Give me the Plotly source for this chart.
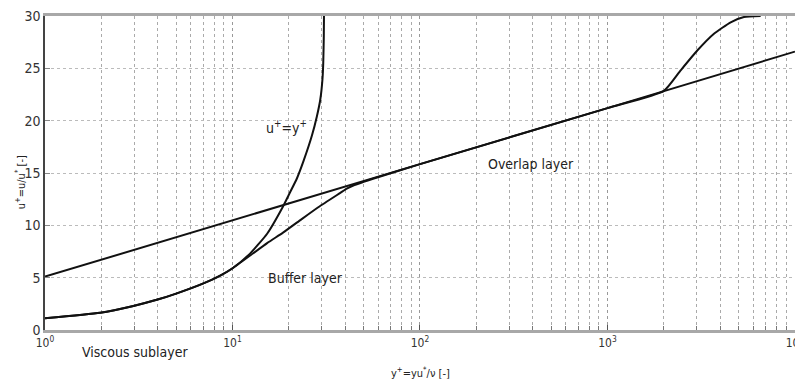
import plotly.graph_objects as go

# ---- data ----
# log law (overlap layer line)
loglaw_yplus = [1, 10, 100, 1000, 10000]
loglaw_uplus = [5.1, 10.5, 15.85, 21.2, 26.6]

# "u+=y+" curve (viscous sublayer branch)
lin_yplus = [1.0, 1.97, 2.96, 4.03, 5.05, 7.0, 8.6, 10.1, 12.4, 15.3, 18.6, 19.95,
             22.08, 23.99, 26.55, 28.18, 29.38, 30.2, 30.48, 30.69, 30.76]
lin_uplus = [1.12, 1.65, 2.3, 2.93, 3.5, 4.45, 5.2, 5.95, 7.3, 9.2, 11.8, 12.9,
             14.5, 16.2, 18.6, 20.4, 22.0, 24.0, 25.5, 28.0, 30.0]

# composite velocity profile (with wake)
prof_yplus = [1.0, 1.97, 2.96, 4.03, 5.05, 7.0, 8.6, 10.1, 15.3, 18.6, 23.0,
              28.8, 37.6, 40.7, 44.7, 50.1, 56.2, 100, 1000, 2000, 2455, 3013, 3698,
              4539, 5346, 6561]
prof_uplus = [1.12, 1.65, 2.3, 2.93, 3.5, 4.45, 5.2, 5.95, 8.3, 9.3, 10.5,
              11.75, 13.1, 13.5, 13.85, 14.15, 14.45, 15.85, 21.2, 22.85, 24.8, 26.7, 28.3,
              29.4, 29.9, 30.0]

major_ticks = [1, 10, 100, 1000, 10000]
major_text = ["10<sup>0</sup>", "10<sup>1</sup>", "10<sup>2</sup>", "10<sup>3</sup>", "10<sup>4</sup>"]
minor_ticks = [m * d for d in [1, 10, 100, 1000] for m in range(2, 10)]
y_ticks = [0, 5, 10, 15, 20, 25, 30]

FONT = "DejaVu Sans Condensed, Liberation Sans Narrow, Arial Narrow, sans-serif"
LINE = dict(color="#111111", width=2)

fig = go.Figure()
fig.add_trace(go.Scatter(x=loglaw_yplus, y=loglaw_uplus, mode="lines", line=LINE, showlegend=False))
fig.add_trace(go.Scatter(x=lin_yplus, y=lin_uplus, mode="lines",
                         line=dict(LINE, shape="spline", smoothing=0.5), showlegend=False))
fig.add_trace(go.Scatter(x=prof_yplus, y=prof_uplus, mode="lines",
                         line=dict(LINE, shape="spline", smoothing=0.5), showlegend=False))

fig.update_layout(
    width=795, height=383,
    margin=dict(l=45, r=0, t=16, b=53),
    paper_bgcolor="white", plot_bgcolor="white",
    font=dict(family=FONT, size=13, color="#333333"),
    xaxis=dict(
        type="log", range=[0, 4.0002], automargin=False,
        tickvals=major_ticks, ticktext=major_text, ticklabeloverflow="allow",
        ticks="inside", ticklen=5, tickcolor="#555",
        showgrid=True, gridcolor="#999999", griddash="dot", gridwidth=1,
        minor=dict(tickvals=minor_ticks, ticks="inside", ticklen=4, tickcolor="#777",
                   showgrid=True, gridcolor="#aaaaaa", griddash="dot", gridwidth=1),
        showline=True, linecolor="#a8a8a8", linewidth=3, mirror=True,
        zeroline=False, tickfont=dict(size=12),
    ),
    yaxis=dict(
        range=[0, 30], tickvals=y_ticks, automargin=False,
        ticks="inside", ticklen=5, tickcolor="#888",
        showgrid=True, gridcolor="#bbbbbb", griddash="dot", gridwidth=1,
        showline=True, linecolor="#444444", linewidth=1.5,
        zeroline=False, tickfont=dict(size=14),
    ),
)

annots = [
    dict(text="Viscous sublayer", x=0.1207, y=-0.07, size=14),
    dict(text="Buffer layer", x=0.3467, y=0.1656, size=14),
    dict(text="Overlap layer", x=0.648, y=0.5287, size=14),
    dict(text="u<sup>+</sup>=y<sup>+</sup>", x=0.322, y=0.6465, size=14),
    dict(text="y<sup>+</sup>=yu<sup>*</sup>/ν [-]", x=0.50, y=-0.134, size=11),
]
for a in annots:
    fig.add_annotation(text=a["text"], x=a["x"], y=a["y"], xref="paper", yref="paper",
                       showarrow=False, xanchor="center", yanchor="middle",
                       font=dict(family=FONT, size=a["size"], color="#222222"))
fig.add_annotation(text="u<sup>+</sup>=u/u<sup>*</sup> [-]", x=-0.033, y=0.471,
                   xref="paper", yref="paper", showarrow=False, textangle=-90,
                   xanchor="center", yanchor="middle",
                   font=dict(family=FONT, size=11, color="#222222"))

fig.write_html("out.html", config={"displayModeBar": False},
               post_script="document.body.style.margin='0px';document.body.style.overflow='hidden';")
